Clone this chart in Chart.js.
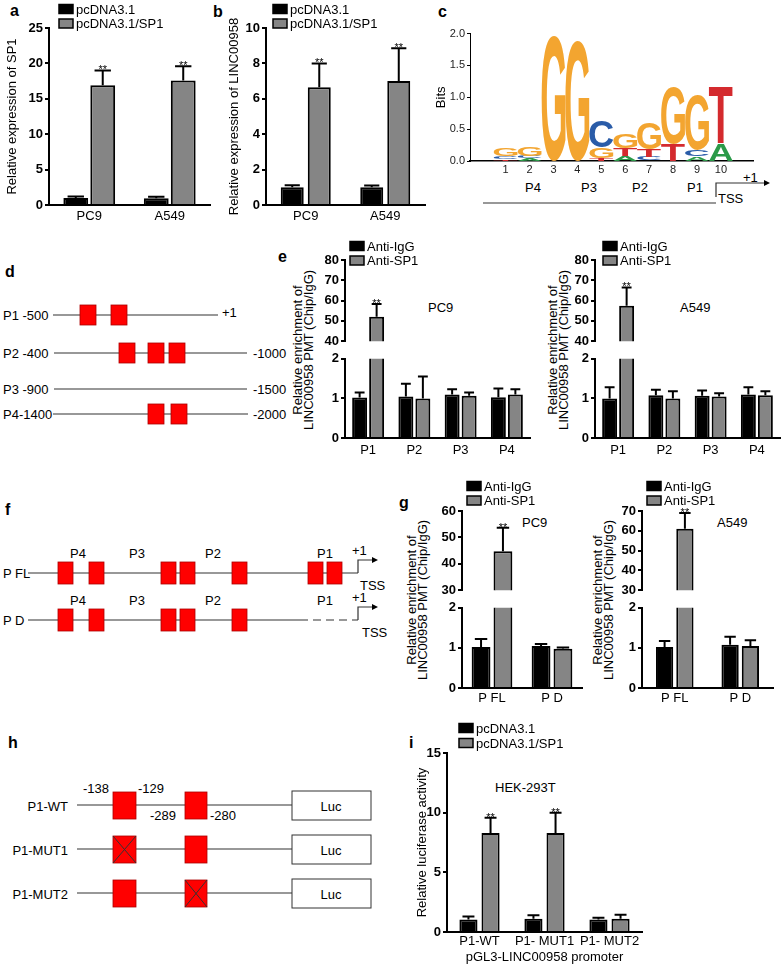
<!DOCTYPE html>
<html>
<head>
<meta charset="utf-8">
<script src="https://cdn.jsdelivr.net/npm/chart.js@4.4.1/dist/chart.umd.min.js"></script>
<style>
  body { margin: 0; background: #fff; }
  #fig { position: relative; width: 784px; height: 966px; font-family: 'Liberation Sans', Arial, sans-serif; }
  #fig canvas { position: absolute; }
  #fig svg { position: absolute; left: 0; top: 0; }
  .ln { stroke: #333; stroke-width: 1.2; fill: none; }
  .bx { fill: #ff0000; stroke: #a00; stroke-width: 0.8; }
  .xx { stroke: #333; stroke-width: 1; }
</style>
</head>
<body>
<div id="fig">
<svg id="art" width="784" height="966" font-family="'Liberation Sans', Arial, sans-serif" font-size="13" fill="#000">
  <g font-weight="bold" font-size="16">
    <text x="10" y="16">a</text>
    <text x="213" y="17">b</text>
    <text x="438" y="17">c</text>
    <text x="5" y="277">d</text>
    <text x="278" y="262">e</text>
    <text x="5" y="515">f</text>
    <text x="399" y="508">g</text>
    <text x="8" y="748">h</text>
    <text x="409" y="748">i</text>
  </g>

  <!-- y titles of the broken-axis charts -->
  <text transform="translate(302,350) rotate(-90)" text-anchor="middle">Relative enrichment of</text>
  <text transform="translate(313,350) rotate(-90)" text-anchor="middle">LINC00958 PMT (Chip/IgG)</text>
  <text transform="translate(557,350) rotate(-90)" text-anchor="middle">Relative enrichment of</text>
  <text transform="translate(568,350) rotate(-90)" text-anchor="middle">LINC00958 PMT (Chip/IgG)</text>
  <text transform="translate(416,600) rotate(-90)" text-anchor="middle">Relative enrichment of</text>
  <text transform="translate(427,600) rotate(-90)" text-anchor="middle">LINC00958 PMT (Chip/IgG)</text>
  <text transform="translate(602,600) rotate(-90)" text-anchor="middle">Relative enrichment of</text>
  <text transform="translate(613,600) rotate(-90)" text-anchor="middle">LINC00958 PMT (Chip/IgG)</text>

  <text x="428" y="312">PC9</text>
  <text x="680" y="312">A549</text>
  <text x="522" y="527">PC9</text>
  <text x="717" y="527">A549</text>
  <text x="495" y="792">HEK-293T</text>

  <!-- c: promoter regions under the logo -->
  <text x="533" y="192" text-anchor="middle">P4</text>
  <text x="589" y="192" text-anchor="middle">P3</text>
  <text x="640" y="192" text-anchor="middle">P2</text>
  <text x="695" y="192" text-anchor="middle">P1</text>
  <line class="ln" x1="483" y1="203" x2="716" y2="203"/>
  <path class="ln" d="M716 197 V183 H764"/>
  <path d="M764 180 L770 183 L764 186 Z"/>
  <text x="743" y="182">+1</text>
  <text x="718" y="203">TSS</text>

  <!-- d -->
  <text x="3" y="320">P1 -500</text>
  <line class="ln" x1="53" y1="315" x2="218" y2="315"/>
  <rect class="bx" x="80" y="305" width="16" height="20"/>
  <rect class="bx" x="111" y="305" width="16" height="20"/>
  <text x="222" y="317">+1</text>

  <text x="3" y="358">P2 -400</text>
  <line class="ln" x1="54" y1="353" x2="247" y2="353"/>
  <rect class="bx" x="119" y="343" width="16" height="20"/>
  <rect class="bx" x="148" y="343" width="16" height="20"/>
  <rect class="bx" x="169" y="343" width="16" height="20"/>
  <text x="253" y="358">-1000</text>

  <text x="3" y="394">P3 -900</text>
  <line class="ln" x1="54" y1="389" x2="247" y2="389"/>
  <text x="253" y="394">-1500</text>

  <text x="3" y="419">P4-1400</text>
  <line class="ln" x1="53" y1="414" x2="248" y2="414"/>
  <rect class="bx" x="148" y="404" width="16" height="20"/>
  <rect class="bx" x="171" y="404" width="16" height="20"/>
  <text x="253" y="419">-2000</text>

  <!-- f -->
  <text x="78" y="558" text-anchor="middle">P4</text>
  <text x="137" y="558" text-anchor="middle">P3</text>
  <text x="213" y="558" text-anchor="middle">P2</text>
  <text x="325" y="558" text-anchor="middle">P1</text>
  <text x="352" y="555">+1</text>
  <text x="3" y="578">P FL</text>
  <line class="ln" x1="28" y1="573" x2="358" y2="573"/>
  <rect class="bx" x="58" y="562" width="15" height="22"/>
  <rect class="bx" x="89" y="562" width="15" height="22"/>
  <rect class="bx" x="161" y="562" width="15" height="22"/>
  <rect class="bx" x="180" y="562" width="15" height="22"/>
  <rect class="bx" x="232" y="562" width="15" height="22"/>
  <rect class="bx" x="308" y="562" width="15" height="22"/>
  <rect class="bx" x="327" y="562" width="15" height="22"/>
  <path class="ln" d="M358 573 V560 H372"/>
  <path d="M372 557 L378 560 L372 563 Z"/>
  <text x="360" y="590">TSS</text>

  <text x="78" y="605" text-anchor="middle">P4</text>
  <text x="137" y="605" text-anchor="middle">P3</text>
  <text x="213" y="605" text-anchor="middle">P2</text>
  <text x="325" y="605" text-anchor="middle">P1</text>
  <text x="352" y="602">+1</text>
  <text x="3" y="625">P D</text>
  <line class="ln" x1="28" y1="620" x2="300" y2="620"/>
  <line class="ln" x1="300" y1="620" x2="358" y2="620" stroke-dasharray="8,5"/>
  <rect class="bx" x="58" y="609" width="15" height="22"/>
  <rect class="bx" x="89" y="609" width="15" height="22"/>
  <rect class="bx" x="161" y="609" width="15" height="22"/>
  <rect class="bx" x="180" y="609" width="15" height="22"/>
  <rect class="bx" x="232" y="609" width="15" height="22"/>
  <path class="ln" d="M358 620 V607 H372"/>
  <path d="M372 604 L378 607 L372 610 Z"/>
  <text x="362" y="637">TSS</text>

  <!-- h -->
  <text x="96" y="793" text-anchor="middle">-138</text>
  <text x="138" y="793">-129</text>
  <text x="150" y="820">-289</text>
  <text x="210" y="820">-280</text>

  <text x="68" y="811" text-anchor="end">P1-WT</text>
  <line class="ln" x1="77" y1="805" x2="292" y2="805"/>
  <rect class="bx" x="113" y="792" width="23" height="27"/>
  <rect class="bx" x="185" y="792" width="22" height="27"/>
  <rect x="292" y="791" width="79" height="29" fill="#fff" stroke="#333"/>
  <text x="331" y="811" text-anchor="middle">Luc</text>

  <text x="68" y="855" text-anchor="end">P1-MUT1</text>
  <line class="ln" x1="77" y1="849" x2="292" y2="849"/>
  <rect class="bx" x="113" y="836" width="23" height="27"/>
  <line class="xx" x1="113" y1="836" x2="136" y2="863"/>
  <line class="xx" x1="136" y1="836" x2="113" y2="863"/>
  <rect class="bx" x="185" y="836" width="22" height="27"/>
  <rect x="292" y="835" width="79" height="29" fill="#fff" stroke="#333"/>
  <text x="331" y="855" text-anchor="middle">Luc</text>

  <text x="68" y="899" text-anchor="end">P1-MUT2</text>
  <line class="ln" x1="77" y1="893" x2="292" y2="893"/>
  <rect class="bx" x="113" y="880" width="23" height="27"/>
  <rect class="bx" x="185" y="880" width="22" height="27"/>
  <line class="xx" x1="185" y1="880" x2="207" y2="907"/>
  <line class="xx" x1="207" y1="880" x2="185" y2="907"/>
  <rect x="292" y="879" width="79" height="29" fill="#fff" stroke="#333"/>
  <text x="331" y="899" text-anchor="middle">Luc</text>
</svg>
</div>
<script>
  const FONT = "'Liberation Sans', Arial, sans-serif";

  // a: SP1 expression after SP1 overexpression
  const cellLines = ['PC9', 'A549'];
  const sp1Vector = [1.0, 0.95];
  const sp1VectorErr = [0.2, 0.2];
  const sp1Over = [16.9, 17.6];
  const sp1OverErr = [2.1, 2.0];

  // b: LINC00958 expression
  const lincVector = [1.0, 1.0];
  const lincVectorErr = [0.12, 0.1];
  const lincOver = [6.65, 7.0];
  const lincOverErr = [1.35, 1.85];

  // c: SP1 motif logo, three stacked letter layers per position
  const motifPositions = [1, 2, 3, 4, 5, 6, 7, 8, 9, 10];
  const logoBaseLetters = ['T', 'A', '', '', 'T', 'A', 'C', '', 'A', ''];
  const logoBaseBits = [0.03, 0.04, 0, 0, 0.05, 0.08, 0.06, 0, 0.07, 0];
  const logoMidLetters = ['C', 'C', '', '', 'G', 'T', 'T', 'T', 'C', 'A'];
  const logoMidBits = [0.04, 0.04, 0, 0, 0.17, 0.12, 0.13, 0.27, 0.1, 0.28];
  const logoTopLetters = ['G', 'G', 'G', 'G', 'C', 'G', 'G', 'G', 'G', 'T'];
  const logoTopBits = [0.12, 0.14, 1.98, 1.88, 0.42, 0.23, 0.42, 0.89, 0.86, 0.9];

  // e: ChIP enrichment on promoter regions
  const regions = ['P1', 'P2', 'P3', 'P4'];
  const pc9IgG = [1.02, 1.05, 1.1, 1.03];
  const pc9IgGErr = [0.13, 0.32, 0.13, 0.22];
  const pc9SP1 = [52, 1.0, 1.07, 1.1];
  const pc9SP1Err = [6.3, 0.55, 0.08, 0.13];
  const a549IgG = [1.0, 1.08, 1.07, 1.1];
  const a549IgGErr = [0.28, 0.14, 0.13, 0.18];
  const a549SP1 = [57.5, 1.0, 1.05, 1.08];
  const a549SP1Err = [9.0, 0.18, 0.08, 0.1];

  // g: ChIP on full length / deleted promoter
  const constructs = ['P FL', 'P D'];
  const pc9FlIgG = [1.02, 1.05];
  const pc9FlIgGErr = [0.2, 0.05];
  const pc9FlSP1 = [44.8, 0.98];
  const pc9FlSP1Err = [8.9, 0.03];
  const a549FlIgG = [1.02, 1.08];
  const a549FlIgGErr = [0.15, 0.2];
  const a549FlSP1 = [61.0, 1.05];
  const a549FlSP1Err = [8.0, 0.14];

  // i: luciferase reporter
  const reporters = ['P1-WT', 'P1- MUT1', 'P1- MUT2'];
  const lucVector = [1.05, 1.1, 1.05];
  const lucVectorErr = [0.25, 0.3, 0.15];
  const lucSP1 = [8.3, 8.3, 1.1];
  const lucSP1Err = [1.28, 1.7, 0.35];

  const BLACK = '#000000';
  const GRAY = '#858585';
  const letterColors = { A: '#2a9a48', C: '#2a5ca8', G: '#f3a530', T: '#d42a2e' };

  Chart.defaults.font.family = FONT;
  Chart.defaults.color = '#000';

  const fig = document.getElementById('fig');

  function place(g) {
    const c = document.createElement('canvas');
    const left = g.x0 - g.yw, top = g.y0 - g.padT;
    const w = g.x1 - left + g.padR, h = g.y1 - top + (g.xh || g.padB);
    c.width = w; c.height = h;
    c.style.left = left + 'px'; c.style.top = top + 'px';
    c.style.width = w + 'px'; c.style.height = h + 'px';
    fig.appendChild(c);
    return c;
  }

  // upward error bars and significance stars
  const errorBars = {
    id: 'errorBars',
    afterDatasetsDraw(chart) {
      const { ctx, chartArea: a } = chart;
      const y = chart.scales.y;
      chart.data.datasets.forEach((ds, i) => {
        if (!ds.err) return;
        chart.getDatasetMeta(i).data.forEach((bar, j) => {
          const tip = y.getPixelForValue(ds.data[j] + ds.err[j]);
          const half = bar.width * 0.33;
          ctx.save();
          ctx.beginPath();
          ctx.rect(a.left - 10, a.top, a.right - a.left + 20, a.bottom - a.top);
          ctx.clip();
          ctx.strokeStyle = '#000';
          ctx.lineWidth = 2;
          ctx.beginPath();
          ctx.moveTo(bar.x, bar.y);
          ctx.lineTo(bar.x, tip);
          ctx.moveTo(bar.x - half, tip);
          ctx.lineTo(bar.x + half, tip);
          ctx.stroke();
          ctx.restore();
          if (ds.stars && ds.stars[j] && tip > a.top - 20 && tip < a.bottom) {
            ctx.save();
            ctx.font = '11px ' + FONT;
            ctx.fillStyle = '#000';
            ctx.textAlign = 'center';
            ctx.textBaseline = 'alphabetic';
            ctx.fillText(ds.stars[j], bar.x, tip + 3);
            ctx.restore();
          }
        });
      });
    }
  };

  // stacked legend drawn at a page position
  const boxLegend = {
    id: 'boxLegend',
    afterDraw(chart, args, opts) {
      if (opts.x === undefined) return;
      const { ctx } = chart;
      const ox = chart.canvas.offsetLeft, oy = chart.canvas.offsetTop;
      chart.data.datasets.forEach((ds, i) => {
        const x = opts.x - ox, y = opts.y + i * opts.dy - oy;
        ctx.save();
        ctx.fillStyle = ds.backgroundColor;
        ctx.fillRect(x, y - 4.5, 14, 9);
        ctx.strokeStyle = '#000';
        ctx.lineWidth = 1.5;
        ctx.strokeRect(x, y - 4.5, 14, 9);
        ctx.fillStyle = '#000';
        ctx.font = '13px ' + FONT;
        ctx.textBaseline = 'middle';
        ctx.fillText(ds.label, x + 17, y + 1);
        ctx.restore();
      });
    }
  };

  // sequence logo letters stretched into the stacked bars
  const logoLetters = {
    id: 'logoLetters',
    afterDatasetsDraw(chart) {
      const { ctx } = chart;
      chart.data.datasets.forEach((ds, i) => {
        chart.getDatasetMeta(i).data.forEach((bar, j) => {
          const ch = ds.letters[j];
          const h = bar.base - bar.y;
          if (!ch || h < 0.5) return;
          ctx.save();
          ctx.font = 'bold 100px ' + FONT;
          const m = ctx.measureText(ch);
          const gw = m.actualBoundingBoxLeft + m.actualBoundingBoxRight;
          const gh = m.actualBoundingBoxAscent + m.actualBoundingBoxDescent;
          ctx.translate(bar.x - bar.width / 2, bar.y);
          ctx.scale(bar.width / gw, h / gh);
          ctx.fillStyle = letterColors[ch];
          ctx.textAlign = 'left';
          ctx.textBaseline = 'alphabetic';
          ctx.fillText(ch, m.actualBoundingBoxLeft, m.actualBoundingBoxAscent);
          ctx.restore();
        });
      });
    }
  };

  function barChart(g, labels, sets, ycfg) {
    const canvas = place(g);
    const datasets = sets.map(s => ({
      label: s.label, data: s.data, err: s.err, stars: s.stars,
      backgroundColor: s.color, borderColor: '#000', borderWidth: 2,
      categoryPercentage: g.cp, barPercentage: g.bp,
      clip: g.clip
    }));
    const x = g.xh ? {
      ticks: { font: { size: 13 }, padding: g.lp, maxRotation: 0, autoSkip: false },
      grid: { display: false, drawTicks: false },
      border: { display: true, color: '#000', width: 2 },
      title: g.xTitle ? { display: true, text: g.xTitle, font: { size: 13 }, padding: { top: 0, bottom: 1 } } : { display: false },
      afterFit: s => { s.height = g.xh; }
    } : { display: false };
    const y = {
      min: ycfg.min, max: ycfg.max,
      ticks: { stepSize: ycfg.step, font: { size: 13, weight: 'bold' }, padding: 2 },
      grid: { drawOnChartArea: false, drawTicks: true, tickLength: 4, color: '#000', lineWidth: 2 },
      border: { display: true, color: '#000', width: 2 },
      title: ycfg.title ? { display: true, text: ycfg.title, font: { size: 13 }, padding: 0 } : { display: false },
      afterFit: s => { s.width = g.yw; }
    };
    return new Chart(canvas, {
      type: 'bar',
      data: { labels, datasets },
      options: {
        responsive: false, animation: false, devicePixelRatio: 1,
        layout: { padding: { top: g.padT, right: g.padR, bottom: g.xh ? 0 : g.padB, left: 0 } },
        plugins: { legend: { display: false }, tooltip: { enabled: false }, boxLegend: g.legend || {} },
        scales: { x, y }
      },
      plugins: [errorBars, boxLegend]
    });
  }

  const CLIP = { left: 6, right: 6, top: 0, bottom: 0 };

  // a
  barChart({ x0: 49, x1: 210, y0: 28, y1: 205, yw: 44, xh: 22, padT: 27, padR: 4, lp: 4, cp: 0.67, bp: 0.92,
             legend: { x: 59, y: 9, dy: 14.5 } },
    cellLines,
    [{ label: 'pcDNA3.1', data: sp1Vector, err: sp1VectorErr, color: BLACK },
     { label: 'pcDNA3.1/SP1', data: sp1Over, err: sp1OverErr, color: GRAY, stars: ['**', '**'] }],
    { min: 0, max: 25, step: 5, title: 'Relative expression of SP1' });

  // b
  barChart({ x0: 266, x1: 425, y0: 28, y1: 205, yw: 39, xh: 22, padT: 27, padR: 4, lp: 4, cp: 0.68, bp: 0.85,
             legend: { x: 273, y: 9, dy: 14.5 } },
    cellLines,
    [{ label: 'pcDNA3.1', data: lincVector, err: lincVectorErr, color: BLACK },
     { label: 'pcDNA3.1/SP1', data: lincOver, err: lincOverErr, color: GRAY, stars: ['**', '**'] }],
    { min: 0, max: 10, step: 2, title: 'Relative expression of LINC00958' });

  // e, PC9 (broken axis: upper and lower part)
  const eSetsPC9 = [
    { label: 'Anti-IgG', data: pc9IgG, err: pc9IgGErr, color: BLACK },
    { label: 'Anti-SP1', data: pc9SP1, err: pc9SP1Err, color: GRAY, stars: ['**', '', '', ''] }];
  barChart({ x0: 345, x1: 530, y0: 260, y1: 343, yw: 30, padT: 22, padB: 8, padR: 4, cp: 0.735, bp: 0.88, clip: CLIP,
             legend: { x: 350, y: 246, dy: 14.5 } },
    regions, eSetsPC9, { min: 40, max: 80, step: 10 });
  barChart({ x0: 345, x1: 530, y0: 357, y1: 438, yw: 30, xh: 22, padT: 8, padR: 4, lp: 5, cp: 0.735, bp: 0.88, clip: CLIP },
    regions, eSetsPC9, { min: 0, max: 2, step: 1 });

  // e, A549
  const eSetsA549 = [
    { label: 'Anti-IgG', data: a549IgG, err: a549IgGErr, color: BLACK },
    { label: 'Anti-SP1', data: a549SP1, err: a549SP1Err, color: GRAY, stars: ['**', '', '', ''] }];
  barChart({ x0: 595, x1: 780, y0: 260, y1: 343, yw: 30, padT: 22, padB: 8, padR: 3, cp: 0.735, bp: 0.88, clip: CLIP,
             legend: { x: 603, y: 246, dy: 14.5 } },
    regions, eSetsA549, { min: 40, max: 80, step: 10 });
  barChart({ x0: 595, x1: 780, y0: 357, y1: 438, yw: 30, xh: 22, padT: 8, padR: 3, lp: 5, cp: 0.735, bp: 0.88, clip: CLIP },
    regions, eSetsA549, { min: 0, max: 2, step: 1 });

  // g, PC9
  const gSetsPC9 = [
    { label: 'Anti-IgG', data: pc9FlIgG, err: pc9FlIgGErr, color: BLACK },
    { label: 'Anti-SP1', data: pc9FlSP1, err: pc9FlSP1Err, color: GRAY, stars: ['**', ''] }];
  barChart({ x0: 462, x1: 582, y0: 511, y1: 592, yw: 30, padT: 34, padB: 8, padR: 4, cp: 0.73, bp: 0.86, clip: CLIP,
             legend: { x: 467, y: 486, dy: 14.5 } },
    constructs, gSetsPC9, { min: 30, max: 60, step: 10 });
  barChart({ x0: 462, x1: 582, y0: 606, y1: 688, yw: 30, xh: 20, padT: 8, padR: 4, lp: 3, cp: 0.73, bp: 0.86, clip: CLIP },
    constructs, gSetsPC9, { min: 0, max: 2, step: 1 });

  // g, A549
  const gSetsA549 = [
    { label: 'Anti-IgG', data: a549FlIgG, err: a549FlIgGErr, color: BLACK },
    { label: 'Anti-SP1', data: a549FlSP1, err: a549FlSP1Err, color: GRAY, stars: ['**', ''] }];
  barChart({ x0: 642, x1: 773, y0: 511, y1: 592, yw: 30, padT: 34, padB: 8, padR: 4, cp: 0.62, bp: 0.85, clip: CLIP,
             legend: { x: 647, y: 486, dy: 14.5 } },
    constructs, gSetsA549, { min: 30, max: 70, step: 10 });
  barChart({ x0: 642, x1: 773, y0: 606, y1: 688, yw: 30, xh: 20, padT: 8, padR: 4, lp: 3, cp: 0.62, bp: 0.85, clip: CLIP },
    constructs, gSetsA549, { min: 0, max: 2, step: 1 });

  // i
  barChart({ x0: 447, x1: 642, y0: 753, y1: 932, yw: 32, xh: 34, padT: 33, padR: 4, lp: 2, cp: 0.68, bp: 0.82,
             xTitle: 'pGL3-LINC00958 promoter', legend: { x: 459, y: 728, dy: 15 } },
    reporters,
    [{ label: 'pcDNA3.1', data: lucVector, err: lucVectorErr, color: BLACK },
     { label: 'pcDNA3.1/SP1', data: lucSP1, err: lucSP1Err, color: GRAY, stars: ['**', '**', ''] }],
    { min: 0, max: 15, step: 5, title: 'Relative luciferase activity' });

  // c: sequence logo as stacked bars on a numeric x axis
  const logoGeo = { x0: 470, x1: 753, y0: 33, y1: 161, yw: 36, xh: 14, padT: 8, padR: 6 };
  const logoCanvas = place(logoGeo);
  const layers = [
    [logoBaseLetters, logoBaseBits],
    [logoMidLetters, logoMidBits],
    [logoTopLetters, logoTopBits]
  ];
  new Chart(logoCanvas, {
    type: 'bar',
    data: {
      datasets: layers.map(([letters, bits]) => ({
        data: motifPositions.map((p, i) => ({ x: p, y: bits[i] })),
        letters,
        backgroundColor: 'rgba(0,0,0,0)', borderWidth: 0,
        categoryPercentage: 1, barPercentage: 1
      }))
    },
    options: {
      responsive: false, animation: false, devicePixelRatio: 1,
      layout: { padding: { top: logoGeo.padT, right: logoGeo.padR, bottom: 0, left: 0 } },
      plugins: { legend: { display: false }, tooltip: { enabled: false } },
      scales: {
        x: {
          type: 'linear', stacked: true, min: 0.1, max: 10.75,
          ticks: { font: { size: 11 }, color: '#222', padding: 2 },
          afterBuildTicks: s => { s.ticks = motifPositions.map(v => ({ value: v })); },
          grid: { display: false, drawTicks: false },
          border: { display: true, color: '#000', width: 1.5 },
          afterFit: s => { s.height = logoGeo.xh; }
        },
        y: {
          stacked: true, min: 0, max: 2,
          ticks: { stepSize: 0.5, font: { size: 11 }, color: '#222', padding: 2, callback: v => v.toFixed(1) },
          grid: { drawOnChartArea: false, tickLength: 3, color: '#000', lineWidth: 1 },
          border: { display: true, color: '#000', width: 1 },
          title: { display: true, text: 'Bits', font: { size: 13 }, padding: 0 },
          afterFit: s => { s.width = logoGeo.yw; }
        }
      }
    },
    plugins: [logoLetters]
  });
</script>
</body>
</html>
